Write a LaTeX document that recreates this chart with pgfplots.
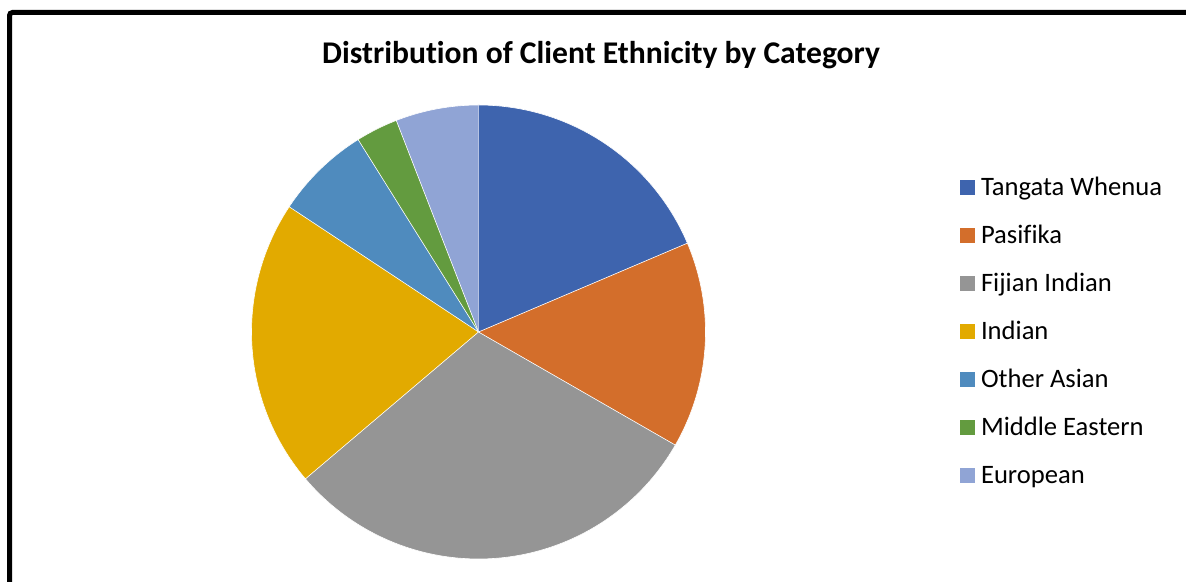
\documentclass[border=0pt]{standalone}
\usepackage{pgfplots}
\pgfplotsset{compat=1.18}
\usepackage{pgfplotstable}
\usepackage{fontspec}
\setmainfont{Carlito}[Ligatures=NoCommon]
\definecolor{c1}{HTML}{3E64AE}
\definecolor{c2}{HTML}{D36E2B}
\definecolor{c3}{HTML}{959595}
\definecolor{c4}{HTML}{E2AA00}
\definecolor{c5}{HTML}{4F8BBE}
\definecolor{c6}{HTML}{639B3F}
\definecolor{c7}{HTML}{90A4D5}
% share of clients (percent), clockwise from 12 o'clock
\pgfplotstableread{
value
18.6
14.7
30.5
20.5
6.8
3.0
5.9
}\pietable
\newcommand\pieslice[3]{%
  \addplot[fill=#3, draw=white, line width=0.3pt, domain=0:90, samples=91, variable=\t]
  ({ifthenelse(\t<0.5,0,cos(#1+(\t-1)*(#2-#1)/89))},
   {ifthenelse(\t<0.5,0,sin(#1+(\t-1)*(#2-#1)/89))});
}
\begin{document}
\begin{tikzpicture}
\useasboundingbox (0,0) rectangle (593pt,291pt);
\begin{scope}
\clip (0,0) rectangle (593pt,291pt);
\draw[line width=2.5pt, rounded corners=1.5pt] (4.75pt,-10pt) -- (4.75pt,284.75pt) -- (620pt,284.75pt);
\end{scope}
\pgfmathsetmacro\aA{90}
\pgfplotstablegetelem{0}{value}\of\pietable \pgfmathsetmacro\aB{\aA-3.6*\pgfplotsretval}
\pgfplotstablegetelem{1}{value}\of\pietable \pgfmathsetmacro\aC{\aB-3.6*\pgfplotsretval}
\pgfplotstablegetelem{2}{value}\of\pietable \pgfmathsetmacro\aD{\aC-3.6*\pgfplotsretval}
\pgfplotstablegetelem{3}{value}\of\pietable \pgfmathsetmacro\aE{\aD-3.6*\pgfplotsretval}
\pgfplotstablegetelem{4}{value}\of\pietable \pgfmathsetmacro\aF{\aE-3.6*\pgfplotsretval}
\pgfplotstablegetelem{5}{value}\of\pietable \pgfmathsetmacro\aG{\aF-3.6*\pgfplotsretval}
\pgfplotstablegetelem{6}{value}\of\pietable \pgfmathsetmacro\aH{\aG-3.6*\pgfplotsretval}
\begin{axis}[
  at={(239.25pt,125pt)}, anchor=center,
  width=227pt, height=227pt, scale only axis,
  xmin=-1, xmax=1, ymin=-1, ymax=1,
  hide axis, clip=false,
  legend cell align=left,
  legend image code/.code={\fill[#1,draw=none] (0pt,0pt) rectangle (7.5pt,7.5pt);},
  legend style={draw=none, fill=none, at={(1.5606,0.4835)}, anchor=west,
    inner sep=0pt, outer sep=0pt, row sep=0pt,
    font=\fontsize{13.3}{16}\selectfont,
    nodes={inner sep=0pt, text height=12pt, text depth=12pt},
    /tikz/every odd column/.append style={column sep=3pt}},
]
\pieslice{\aA}{\aB}{c1}
\addlegendentry{Tangata Whenua}
\pieslice{\aB}{\aC}{c2}
\addlegendentry{Pasifika}
\pieslice{\aC}{\aD}{c3}
\addlegendentry{Fijian Indian}
\pieslice{\aD}{\aE}{c4}
\addlegendentry{Indian}
\pieslice{\aE}{\aF}{c5}
\addlegendentry{Other Asian}
\pieslice{\aF}{\aG}{c6}
\addlegendentry{Middle Eastern}
\pieslice{\aG}{\aH}{c7}
\addlegendentry{European}
\end{axis}
\node[anchor=base, font=\bfseries\fontsize{15.8}{19}\selectfont] at (300.5pt,259.35pt) {Distribution of Client Ethnicity by Category};
\end{tikzpicture}
\end{document}
